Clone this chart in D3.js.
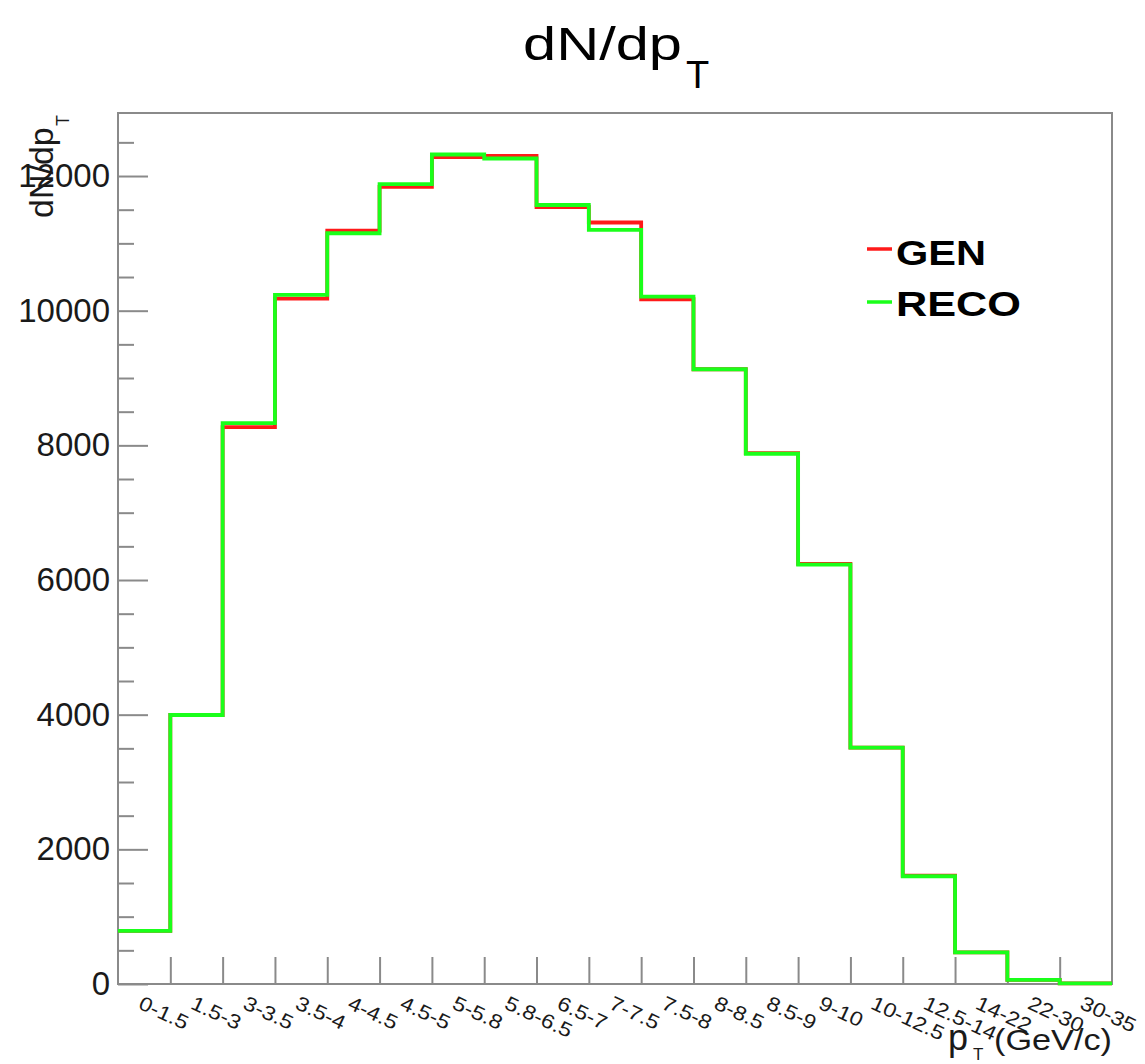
<!DOCTYPE html>
<html>
<head>
<meta charset="utf-8">
<script src="https://cdn.jsdelivr.net/npm/d3@7"></script>
<style>
  html, body { margin: 0; padding: 0; background: #fff; }
  svg { display: block; }
  text { font-family: "Liberation Sans", Arial, Helvetica, sans-serif; }
</style>
</head>
<body>
<svg id="chart" width="1145" height="1064"></svg>
<script>
// pT bins (alphanumeric bin labels)
const categories = ["0-1.5", "1.5-3", "3-3.5", "3.5-4", "4-4.5", "4.5-5", "5-5.8", "5.8-6.5",
  "6.5-7", "7-7.5", "7.5-8", "8-8.5", "8.5-9", "9-10", "10-12.5", "12.5-14", "14-22", "22-30", "30-35"];

// dN/dpT per bin, generator level
const genValues = [790, 3995, 8270, 10180, 11190, 11840, 12280, 12300, 11540, 11310,
  10170, 9130, 7885, 6240, 3510, 1610, 470, 60, 10];

// dN/dpT per bin, reconstructed
const recoValues = [790, 3995, 8330, 10235, 11150, 11880, 12320, 12260, 11570, 11200,
  10210, 9130, 7875, 6230, 3510, 1600, 470, 60, 10];

const yMajorTicks = [0, 2000, 4000, 6000, 8000, 10000, 12000];

const seriesList = [
  { name: "GEN", values: genValues, color: "#ff1a1a" },
  { name: "RECO", values: recoValues, color: "#1aff1a" }
];

const svg = d3.select("#chart");
const frame = { left: 118, right: 1112, top: 113, bottom: 984 };
const axisColor = "#8a8a8a";
const textColor = "#1a1a1a";

// Histogram maximum padded by 5%
const yMax = 1.05 * d3.max([...genValues, ...recoValues]);

const x = d3.scaleLinear().domain([0, categories.length]).range([frame.left, frame.right]);
const y = d3.scaleLinear().domain([0, yMax]).range([frame.bottom, frame.top]);

// Frame
svg.append("rect")
  .attr("x", frame.left).attr("y", frame.top)
  .attr("width", frame.right - frame.left).attr("height", frame.bottom - frame.top)
  .attr("fill", "none").attr("stroke", axisColor).attr("stroke-width", 2);

// Y axis: major ticks with labels, minor ticks every 500
const yMinor = d3.range(0, yMax, 500).filter(v => v % 2000 !== 0);
const yMinorAxis = svg.append("g")
  .attr("transform", `translate(${frame.left},0)`)
  .call(d3.axisLeft(y).tickValues(yMinor).tickSize(-16).tickFormat(""));
yMinorAxis.select(".domain").remove();
yMinorAxis.selectAll("line").attr("stroke", axisColor).attr("stroke-width", 2);

const yAxis = svg.append("g")
  .attr("transform", `translate(${frame.left},0)`)
  .call(d3.axisLeft(y).tickValues(yMajorTicks).tickSize(-30).tickPadding(8).tickFormat(d3.format("d")));
yAxis.select(".domain").remove();
yAxis.selectAll("line").attr("stroke", axisColor).attr("stroke-width", 2);
yAxis.selectAll("text")
  .attr("font-size", 33)
  .attr("font-family", "Liberation Sans, Arial, sans-serif")
  .attr("fill", textColor);

// X axis: ticks at bin edges
const xAxis = svg.append("g")
  .attr("transform", `translate(0,${frame.bottom})`)
  .call(d3.axisBottom(x).tickValues(d3.range(1, categories.length)).tickSize(-27).tickFormat(""));
xAxis.select(".domain").remove();
xAxis.selectAll("line").attr("stroke", axisColor).attr("stroke-width", 2);

// Bin labels, tilted
const binLabels = svg.append("g");
binLabels.selectAll("text")
  .data(categories)
  .join("text")
  .attr("transform", (d, i) => `translate(${x(i + 0.5) - 7},${frame.bottom + 24}) rotate(25)`)
  .attr("font-size", 20)
  .attr("fill", textColor)
  .text(d => d)
  .each(function () {
    const w = this.getComputedTextLength();
    d3.select(this).attr("textLength", w * 1.15).attr("lengthAdjust", "spacingAndGlyphs");
  });

// Step outlines (GEN first, RECO drawn over it)
const step = d3.line()
  .x(d => x(d.i))
  .y(d => y(d.v))
  .curve(d3.curveStepAfter);

seriesList.forEach(s => {
  const pts = s.values.map((v, i) => ({ i, v }));
  pts.push({ i: s.values.length, v: s.values[s.values.length - 1] });
  svg.append("path")
    .datum(pts)
    .attr("d", step)
    .attr("fill", "none")
    .attr("stroke", s.color)
    .attr("stroke-width", 3.8);
});

// Legend
const legend = svg.append("g");
const legendRows = [
  { s: seriesList[0], lineY: 249, baseY: 265, width: 90 },
  { s: seriesList[1], lineY: 302, baseY: 316, width: 125 }
];
legendRows.forEach(r => {
  legend.append("line")
    .attr("x1", 867).attr("x2", 892)
    .attr("y1", r.lineY).attr("y2", r.lineY)
    .attr("stroke", r.s.color).attr("stroke-width", 3.5);
  legend.append("text")
    .attr("x", 896).attr("y", r.baseY)
    .attr("font-size", 35).attr("font-weight", "bold")
    .attr("fill", "#000")
    .attr("textLength", r.width).attr("lengthAdjust", "spacingAndGlyphs")
    .text(r.s.name);
});

// Title dN/dpT
svg.append("text")
  .attr("x", 523).attr("y", 60)
  .attr("font-size", 47).attr("fill", "#000")
  .attr("textLength", 159).attr("lengthAdjust", "spacingAndGlyphs")
  .text("dN/dp");
svg.append("text")
  .attr("x", 686).attr("y", 88)
  .attr("font-size", 38).attr("fill", "#000")
  .text("T");

// Y axis title dN/dpT (rotated)
svg.append("text")
  .attr("transform", "translate(53,218) rotate(-90)")
  .attr("font-size", 34).attr("fill", textColor)
  .text("dN/dp");
svg.append("text")
  .attr("transform", "translate(69,126) rotate(-90)")
  .attr("font-size", 18).attr("fill", textColor)
  .text("T");

// X axis title pT (GeV/c)
svg.append("text")
  .attr("x", 948).attr("y", 1050)
  .attr("font-size", 36).attr("fill", textColor)
  .text("p");
svg.append("text")
  .attr("x", 973).attr("y", 1060)
  .attr("font-size", 17).attr("fill", textColor)
  .text("T");
svg.append("text")
  .attr("x", 994).attr("y", 1050)
  .attr("font-size", 29).attr("fill", textColor)
  .attr("textLength", 118).attr("lengthAdjust", "spacingAndGlyphs")
  .text("(GeV/c)");
</script>
</body>
</html>
